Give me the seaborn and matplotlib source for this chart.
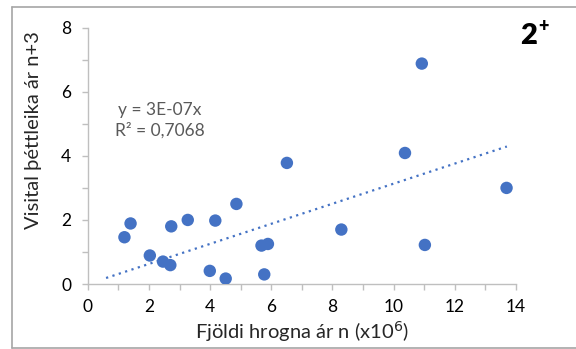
import numpy as np
import pandas as pd
import seaborn as sns
import matplotlib.pyplot as plt
from matplotlib.lines import Line2D
from matplotlib.ticker import MultipleLocator

# Number of eggs in year n (millions) and density index in year n+3
eggs_millions = [1.20, 1.40, 2.03, 2.46, 2.70, 2.73, 3.27, 3.99, 4.17, 4.51,
                 4.86, 5.68, 5.89, 5.77, 6.51, 8.29, 10.37, 10.92, 11.02, 13.69]
density_index = [1.46, 1.89, 0.89, 0.70, 0.59, 1.80, 2.00, 0.41, 1.98, 0.17,
                 2.50, 1.20, 1.25, 0.30, 3.78, 1.70, 4.09, 6.88, 1.22, 3.00]
trend_span = [0.6, 13.7]
equation_text = "y = 3E-07x\nR² = 0,7068"
panel_number = "2"
panel_sup = "+"

df = pd.DataFrame({"eggs": eggs_millions, "density": density_index})

sns.set_theme(style="white")
plt.rcParams["font.family"] = ["Lato", "DejaVu Sans"]

blue = "#4472C4"
grey_axis = "#BFBFBF"

fig = plt.figure(figsize=(5.76, 3.49), dpi=100)
ax = fig.add_axes([0.1523, 0.1862, 0.7436, 0.7344])

sns.scatterplot(data=df, x="eggs", y="density", ax=ax, s=80, color=blue,
                edgecolor="none", zorder=3)

# Linear trendline forced through the origin
x = np.asarray(eggs_millions)
y = np.asarray(density_index)
slope = np.sum(x * y) / np.sum(x * x)
tx = np.array(trend_span)
ax.plot(tx, slope * tx, color=blue, lw=1.6, linestyle=(0, (1, 2)),
        dash_capstyle="butt", zorder=2)

ax.set_xlim(0, 14)
ax.set_ylim(0, 8)
ax.xaxis.set_major_locator(MultipleLocator(2))
ax.xaxis.set_minor_locator(MultipleLocator(1))
ax.yaxis.set_major_locator(MultipleLocator(2))
ax.yaxis.set_minor_locator(MultipleLocator(1))

for side in ["top", "right"]:
    ax.spines[side].set_visible(False)
for side in ["left", "bottom"]:
    ax.spines[side].set_color(grey_axis)
    ax.spines[side].set_linewidth(1.0)

ax.tick_params(axis="both", which="both", direction="out", length=4,
               width=1.0, color=grey_axis, labelsize=12.5, labelcolor="black")
ax.tick_params(axis="x", which="major", pad=7)
ax.tick_params(axis="y", which="major", pad=8)
ax.tick_params(axis="both", which="minor", labelleft=False, labelbottom=False)
ax.tick_params(left=True, bottom=True, which="both")

ax.set_xlabel("Fjöldi hrogna ár n (x10$^{6}$)", fontsize=14.5, labelpad=3)
ax.set_ylabel("Visital þéttleika ár n+3", fontsize=14.5)
ax.yaxis.set_label_coords(-0.106, 0.60)

ax.text(2.35, 5.1, equation_text, fontsize=12.5, color="#595959",
        ha="center", va="center", linespacing=1.3)

# Panel tag in the upper right corner
fig.text(0.918, 0.897, panel_number, fontsize=21, fontweight="heavy",
         ha="center", va="center", color="black")
fig.text(0.943, 0.925, panel_sup, fontsize=13, fontweight="heavy",
         ha="center", va="center", color="black")

# Chart area border
border = "#A6A6A6"
fig.add_artist(Line2D([0.0208, 1.0], [0.980, 0.980], color=border, lw=1.2))
fig.add_artist(Line2D([0.0208, 0.0208], [0.980, 0.003], color=border, lw=1.2))
fig.add_artist(Line2D([0.0208, 1.0], [0.003, 0.003], color=border, lw=1.2))

fig.savefig("out.png", dpi=100)
